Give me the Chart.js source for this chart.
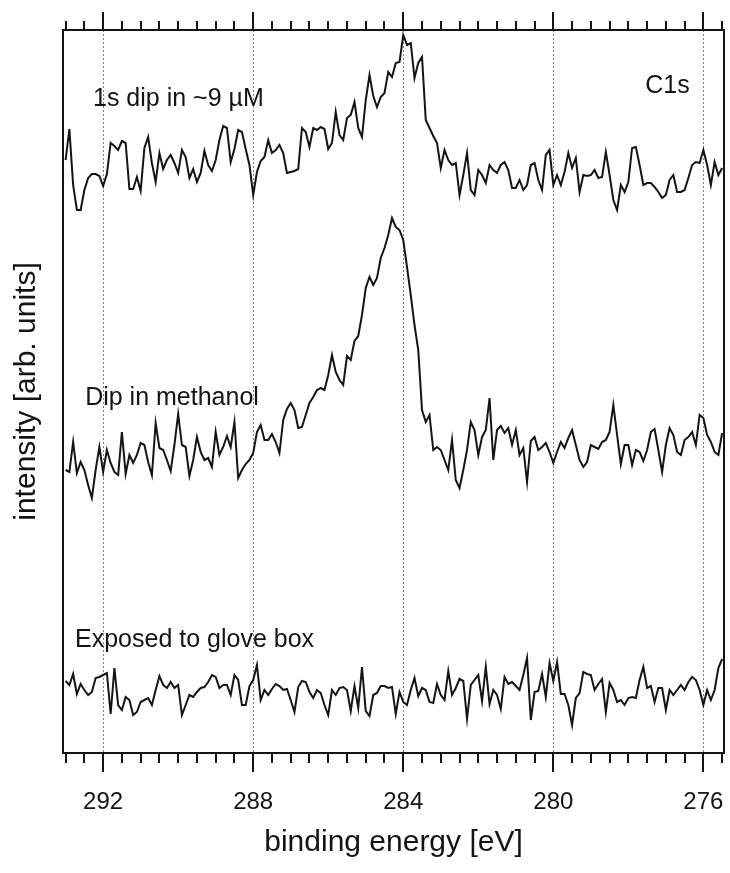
<!DOCTYPE html>
<html>
<head>
<meta charset="utf-8">
<script src="https://cdn.jsdelivr.net/npm/chart.js@4.4.1/dist/chart.umd.min.js"></script>
<style>
  html, body { margin: 0; padding: 0; background: #fff; }
  #wrap { width: 730px; height: 873px; }
</style>
</head>
<body>
<div id="wrap"><canvas id="c1s" width="730" height="873"></canvas></div>
<script>
// C1s spectra, binding energy from 293.0 down to 275.5 eV in 0.1 eV steps
const energyStart = 293.0;
const energyStep = 0.1;

// 1s dip in ~9 uM (top trace, offset)
const dipSolution = [593,624,568,543,543,563,575,579,579,577,
  567,579,610,607,603,612,610,564,564,576,
  562,605,616,590,571,600,584,593,598,590,
  580,603,596,575,584,571,580,602,588,582,
  593,613,627,625,591,604,623,621,604,588,
  558,581,592,596,613,600,603,608,600,580,
  581,582,584,625,621,606,625,623,626,624,
  604,610,641,618,613,635,638,651,625,616,
  653,678,657,646,656,660,681,676,690,691,
  718,708,710,675,690,696,633,625,617,610,
  585,603,593,588,590,558,578,600,563,558,
  583,578,570,588,583,580,588,591,583,565,
  565,573,563,568,588,590,573,563,598,603,
  568,578,568,581,600,585,595,561,578,577,
  578,583,575,576,601,578,553,543,568,561,
  571,605,606,588,568,570,570,566,561,555,
  558,573,578,561,561,563,575,588,591,590,
  603,588,568,591,578,585];

// Dip in methanol (middle trace)
const dipMethanol = [283,281,311,280,291,283,268,255,283,306,
  281,303,290,281,278,321,279,298,290,298,
  310,308,291,278,330,305,303,293,282,308,
  339,308,306,277,293,316,301,293,295,286,
  321,298,306,317,306,331,275,283,289,293,
  300,321,328,313,313,319,311,300,333,344,
  350,343,325,326,338,350,356,363,365,363,
  378,398,381,373,368,397,393,412,417,438,
  465,476,468,475,495,505,518,535,526,523,
  513,486,458,428,403,343,331,338,303,306,
  303,293,283,313,273,265,283,303,331,323,
  298,316,323,355,293,323,327,320,325,308,
  323,298,305,271,312,316,303,306,310,301,
  290,301,311,305,315,323,308,293,286,291,
  308,306,304,311,313,321,348,318,289,308,
  308,288,303,301,292,303,321,324,303,281,
  308,325,318,301,298,313,316,321,308,338,
  335,318,311,301,298,320];

// Exposed to glove box (bottom trace)
const gloveBox = [72,68,79,59,69,63,58,61,75,76,
  78,80,39,85,48,43,56,53,38,41,
  51,53,55,48,63,77,68,65,71,65,
  68,38,48,58,56,61,65,66,71,78,
  76,65,68,68,58,78,73,48,48,67,
  73,88,53,63,58,64,69,67,63,64,
  53,41,66,72,71,61,55,63,60,48,
  38,63,58,65,66,63,42,67,45,86,
  42,37,58,60,67,67,65,66,39,61,
  51,48,63,75,57,65,63,51,50,69,
  58,53,82,58,65,74,72,34,68,73,
  78,52,86,49,63,58,44,76,69,71,
  67,63,78,95,33,61,62,79,56,90,
  72,91,59,59,48,28,55,60,81,79,
  78,63,69,74,41,70,63,51,53,48,
  55,56,55,73,86,65,67,51,65,65,
  43,63,58,63,68,63,71,76,73,63,
  48,63,53,63,85,94];

// axis range and ticks
const xMin = 275.45;
const xMax = 293.07;
const yMin = 0;
const yMax = 723;
const minorStep = 0.5;
const majorStep = 4;

// text labels in the plot (energy, intensity of the text baseline-left)
const labelTexts = ['1s dip in ~9 \u00b5M', 'C1s', 'Dip in methanol', 'Exposed to glove box'];
const labelEnergy = [292.27, 277.55, 292.48, 292.75];
const labelIntensity = [647, 660, 348, 106];

const FONT = '"Liberation Sans", Arial, Helvetica, sans-serif';
const INK = '#141414';

function toPoints(values) {
  return values.map((v, i) => ({ x: +(energyStart - energyStep * i).toFixed(1), y: v }));
}

function isMajor(v) {
  return Math.abs(v / majorStep - Math.round(v / majorStep)) < 1e-6;
}

// frame, outward tick marks and the in-plot labels
const framePlugin = {
  id: 'frame',
  afterDatasetsDraw(chart) {
    const { ctx, chartArea: a, scales } = chart;
    const xs = scales.x;
    ctx.save();
    ctx.strokeStyle = INK;
    ctx.lineWidth = 2;
    ctx.strokeRect(a.left, a.top, a.right - a.left, a.bottom - a.top);

    ctx.beginPath();
    xs.ticks.forEach(t => {
      const px = Math.round(xs.getPixelForValue(t.value));
      const major = isMajor(t.value);
      ctx.moveTo(px, a.top);
      ctx.lineTo(px, a.top - (major ? 18 : 9));
      ctx.moveTo(px, a.bottom);
      ctx.lineTo(px, a.bottom + (major ? 19 : 10));
    });
    ctx.stroke();

    ctx.fillStyle = INK;
    ctx.font = '25px ' + FONT;
    ctx.textAlign = 'left';
    ctx.textBaseline = 'alphabetic';
    labelTexts.forEach((txt, i) => {
      ctx.fillText(txt, xs.getPixelForValue(labelEnergy[i]), scales.y.getPixelForValue(labelIntensity[i]));
    });
    ctx.restore();
  }
};

const lineStyle = {
  borderColor: INK,
  borderWidth: 2,
  pointRadius: 0,
  tension: 0,
  fill: false
};

new Chart(document.getElementById('c1s'), {
  type: 'line',
  data: {
    datasets: [
      Object.assign({ label: labelTexts[0], data: toPoints(dipSolution) }, lineStyle),
      Object.assign({ label: labelTexts[2], data: toPoints(dipMethanol) }, lineStyle),
      Object.assign({ label: labelTexts[3], data: toPoints(gloveBox) }, lineStyle)
    ]
  },
  options: {
    responsive: false,
    animation: false,
    devicePixelRatio: 1,
    layout: { padding: { top: 30, right: 6, left: 0, bottom: 0 } },
    plugins: {
      legend: { display: false },
      tooltip: { enabled: false }
    },
    scales: {
      x: {
        type: 'linear',
        position: 'bottom',
        reverse: true,
        min: xMin,
        max: xMax,
        afterFit: s => {
          s.height = 120;
          s.paddingLeft = 0;
          s.paddingRight = 0;
        },
        ticks: {
          stepSize: minorStep,
          includeBounds: false,
          autoSkip: false,
          maxTicksLimit: 100,
          maxRotation: 0,
          minRotation: 0,
          padding: 35,
          color: INK,
          font: { family: FONT, size: 24 },
          callback: v => isMajor(v) ? String(Math.round(v)) : ''
        },
        grid: {
          drawTicks: false,
          lineWidth: 1,
          color: c => (c.tick && isMajor(c.tick.value)) ? '#808080' : 'rgba(0,0,0,0)'
        },
        border: { display: false, dash: [2, 2] },
        title: {
          display: true,
          text: 'binding energy [eV]',
          color: INK,
          font: { family: FONT, size: 30 },
          padding: { top: 0, bottom: 12 }
        }
      },
      y: {
        min: yMin,
        max: yMax,
        afterFit: s => {
          s.width = 63;
          s.paddingTop = 0;
          s.paddingBottom = 0;
        },
        ticks: { display: false },
        grid: { display: false },
        border: { display: false },
        title: {
          display: true,
          text: 'intensity [arb. units]',
          color: INK,
          font: { family: FONT, size: 30 },
          padding: { top: 9, bottom: 0 }
        }
      }
    }
  },
  plugins: [framePlugin]
});
</script>
</body>
</html>
